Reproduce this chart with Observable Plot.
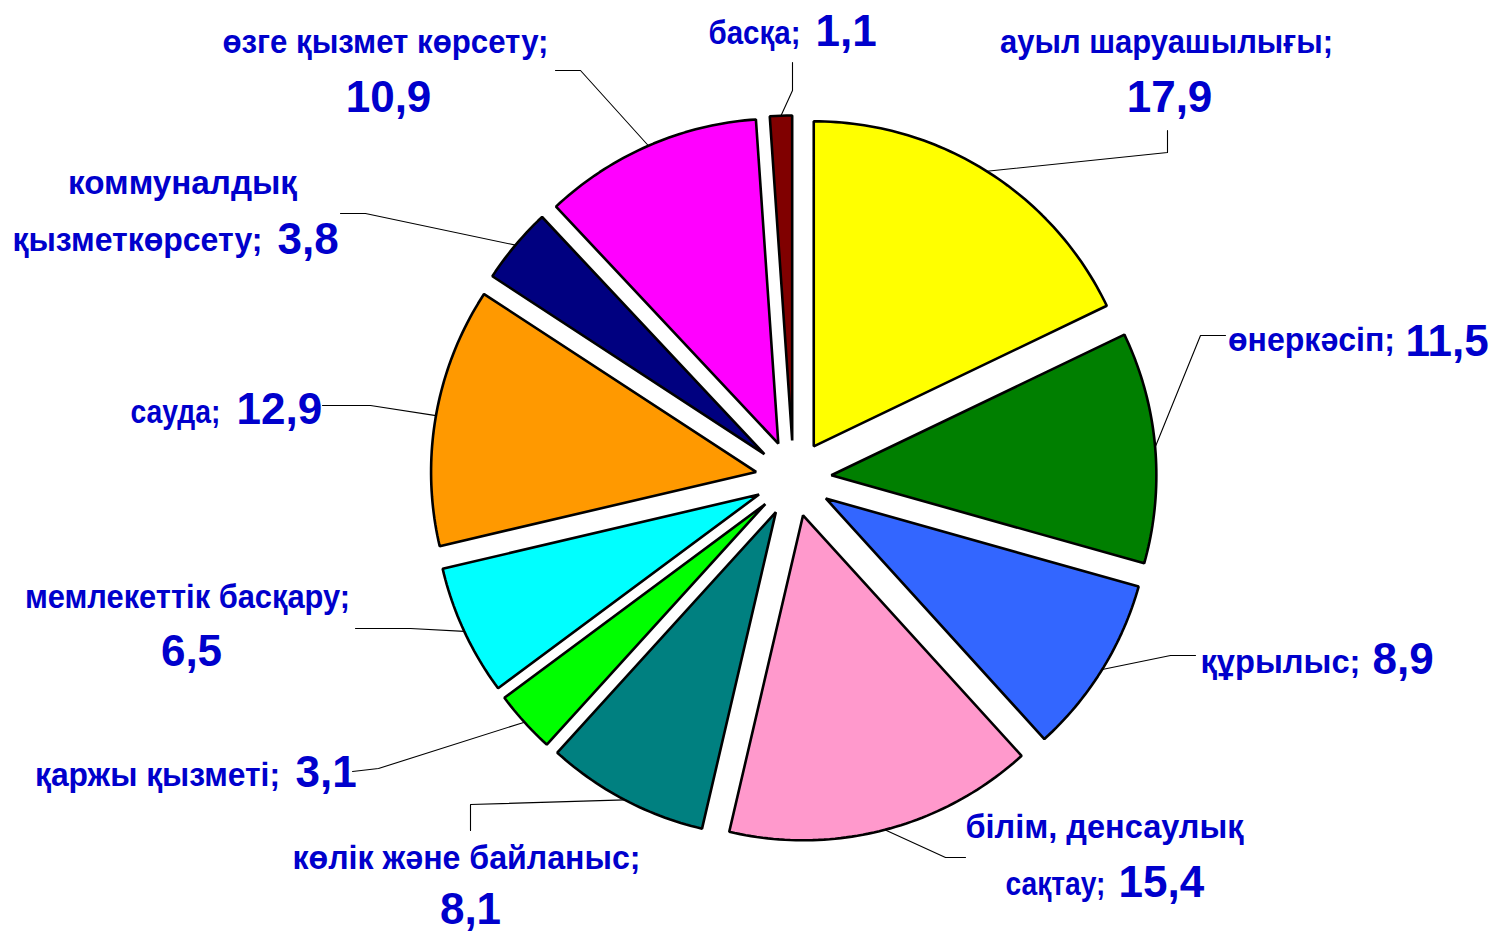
<!DOCTYPE html>
<html>
<head>
<meta charset="utf-8">
<script src="https://cdn.jsdelivr.net/npm/d3@7"></script>
<script src="https://cdn.jsdelivr.net/npm/@observablehq/plot@0.6"></script>
<style>
  html, body { margin: 0; padding: 0; background: #ffffff; }
  svg { display: block; }
</style>
</head>
<body>
<div id="chart"></div>
<script>
// ---- data ----
const categories = [
  "ауыл шаруашылығы",
  "өнеркәсіп",
  "құрылыс",
  "білім, денсаулық сақтау",
  "көлік және байланыс",
  "қаржы қызметі",
  "мемлекеттік басқару",
  "сауда",
  "коммуналдық қызметкөрсету",
  "өзге қызмет көрсету",
  "басқа"
];
const values = [17.9, 11.5, 8.9, 15.4, 8.1, 3.1, 6.5, 12.9, 3.8, 10.9, 1.1];

// ---- styles ----
const sliceColors = ["#FFFF00", "#007F00", "#3366FF", "#FF99CC", "#008080", "#00FF00",
                     "#00FFFF", "#FF9900", "#000080", "#FF00FF", "#800000"];
const textColor = "#0000CC";

// ---- layout (pixels) ----
const W = 1501, H = 934;
const CX = 793, CY = 478;          // pie centre
const R = 325;                     // radius
const EXPLODE = 38;                // offset of each slice
// label text lines: category text split over lines (pixel centre x, baseline y, width)
const nameLines = [
  {i: 0, t: "ауыл шаруашылығы;", x: 1166, y: 52, w: 333},
  {i: 1, t: "өнеркәсіп;", x: 1311, y: 350, w: 167},
  {i: 2, t: "құрылыс;", x: 1280, y: 672, w: 160},
  {i: 3, t: "білім, денсаулық", x: 1104, y: 837, w: 278},
  {i: 3, t: "сақтау;", x: 1055, y: 894, w: 100},
  {i: 4, t: "көлік және байланыс;", x: 466, y: 868, w: 348},
  {i: 5, t: "қаржы қызметі;", x: 157, y: 785, w: 245},
  {i: 6, t: "мемлекеттік басқару;", x: 187, y: 607, w: 325},
  {i: 7, t: "сауда;", x: 175, y: 422, w: 90},
  {i: 8, t: "коммуналдық", x: 182, y: 193, w: 229},
  {i: 8, t: "қызметкөрсету;", x: 137, y: 250, w: 250},
  {i: 9, t: "өзге қызмет көрсету;", x: 385, y: 52, w: 326},
  {i: 10, t: "басқа;", x: 754, y: 43, w: 92}
];
// value label positions (by slice index)
const valuePos = [
  {x: 1169, y: 111, a: "middle"},
  {x: 1405, y: 355, a: "start"},
  {x: 1372, y: 673, a: "start"},
  {x: 1118, y: 896, a: "start"},
  {x: 470, y: 923, a: "middle"},
  {x: 295, y: 786, a: "start"},
  {x: 191, y: 665, a: "middle"},
  {x: 236, y: 423, a: "start"},
  {x: 277, y: 253, a: "start"},
  {x: 388, y: 111, a: "middle"},
  {x: 815, y: 45, a: "start"}
];
// leader line: label end and elbow (pixels); third point is computed on the slice arc
const leaderPts = [
  [[1167, 130], [1167, 152]],
  [[1225, 335], [1200, 335]],
  [[1195, 655], [1170, 655]],
  [[965, 857], [945, 857]],
  [[470, 830], [470, 804]],
  [[352, 771], [378, 768]],
  [[355, 628], [410, 628]],
  [[322, 405], [370, 405]],
  [[340, 213], [365, 213]],
  [[555, 70], [580, 70]],
  [[792, 62], [792, 90]]
];

// ---- geometry from the data ----
const total = d3.sum(values);
const cum = [0, ...d3.cumsum(values)];
const px = x => x - CX;
const py = y => CY - y;

const slicePts = [];
const leaderData = [];
values.forEach((v, i) => {
  const a0 = cum[i] / total * 2 * Math.PI;
  const a1 = cum[i + 1] / total * 2 * Math.PI;
  const mid = (a0 + a1) / 2;
  const ox = EXPLODE * Math.sin(mid), oy = EXPLODE * Math.cos(mid);
  slicePts.push({c: categories[i], x: ox, y: oy});
  const n = Math.max(4, Math.ceil((a1 - a0) / (Math.PI / 180)));
  for (let k = 0; k <= n; k++) {
    const t = a0 + (a1 - a0) * k / n;
    slicePts.push({c: categories[i], x: ox + R * Math.sin(t), y: oy + R * Math.cos(t)});
  }
  const [p1, p2] = leaderPts[i];
  leaderData.push({c: categories[i], x: px(p1[0]), y: py(p1[1])});
  leaderData.push({c: categories[i], x: px(p2[0]), y: py(p2[1])});
  leaderData.push({c: categories[i], x: ox + R * Math.sin(mid), y: oy + R * Math.cos(mid)});
});

const valueData = values.map((v, i) => ({
  t: v.toFixed(1).replace(".", ","),
  x: px(valuePos[i].x), y: py(valuePos[i].y), a: valuePos[i].a
}));
const nameData = nameLines.map(d => ({t: d.t, x: px(d.x), y: py(d.y)}));

const font = "'Liberation Sans', Arial, sans-serif";

const chart = Plot.plot({
  width: W,
  height: H,
  margin: 0,
  x: {domain: [px(0), px(W)], axis: null},
  y: {domain: [py(H), py(0)], axis: null},
  color: {domain: categories, range: sliceColors},
  style: {background: "#ffffff", overflow: "visible"},
  marks: [
    Plot.line(leaderData, {x: "x", y: "y", z: "c", stroke: "#000", strokeWidth: 1.1}),
    Plot.line(slicePts, {x: "x", y: "y", z: "c", fill: "c", stroke: "#000",
                         strokeWidth: 2.6, strokeLinejoin: "miter", curve: "linear-closed"}),
    Plot.text(nameData, {x: "x", y: "y", text: "t", fill: textColor, fontSize: 34,
                         fontWeight: "bold", fontFamily: font, lineAnchor: "bottom",
                         textAnchor: "middle", className: "nm"}),
    Plot.text(valueData.filter(d => d.a === "start"), {x: "x", y: "y", text: "t", fill: textColor,
                         fontSize: 44, fontWeight: "bold", fontFamily: font,
                         lineAnchor: "bottom", textAnchor: "start"}),
    Plot.text(valueData.filter(d => d.a === "middle"), {x: "x", y: "y", text: "t", fill: textColor,
                         fontSize: 44, fontWeight: "bold", fontFamily: font,
                         lineAnchor: "bottom", textAnchor: "middle"})
  ]
});

document.getElementById("chart").appendChild(chart);
// condense the category texts to the widths they occupy
d3.select(chart).selectAll("g.nm text").each(function(d, k) {
  this.setAttribute("textLength", nameLines[k].w);
  this.setAttribute("lengthAdjust", "spacingAndGlyphs");
});
</script>
</body>
</html>
